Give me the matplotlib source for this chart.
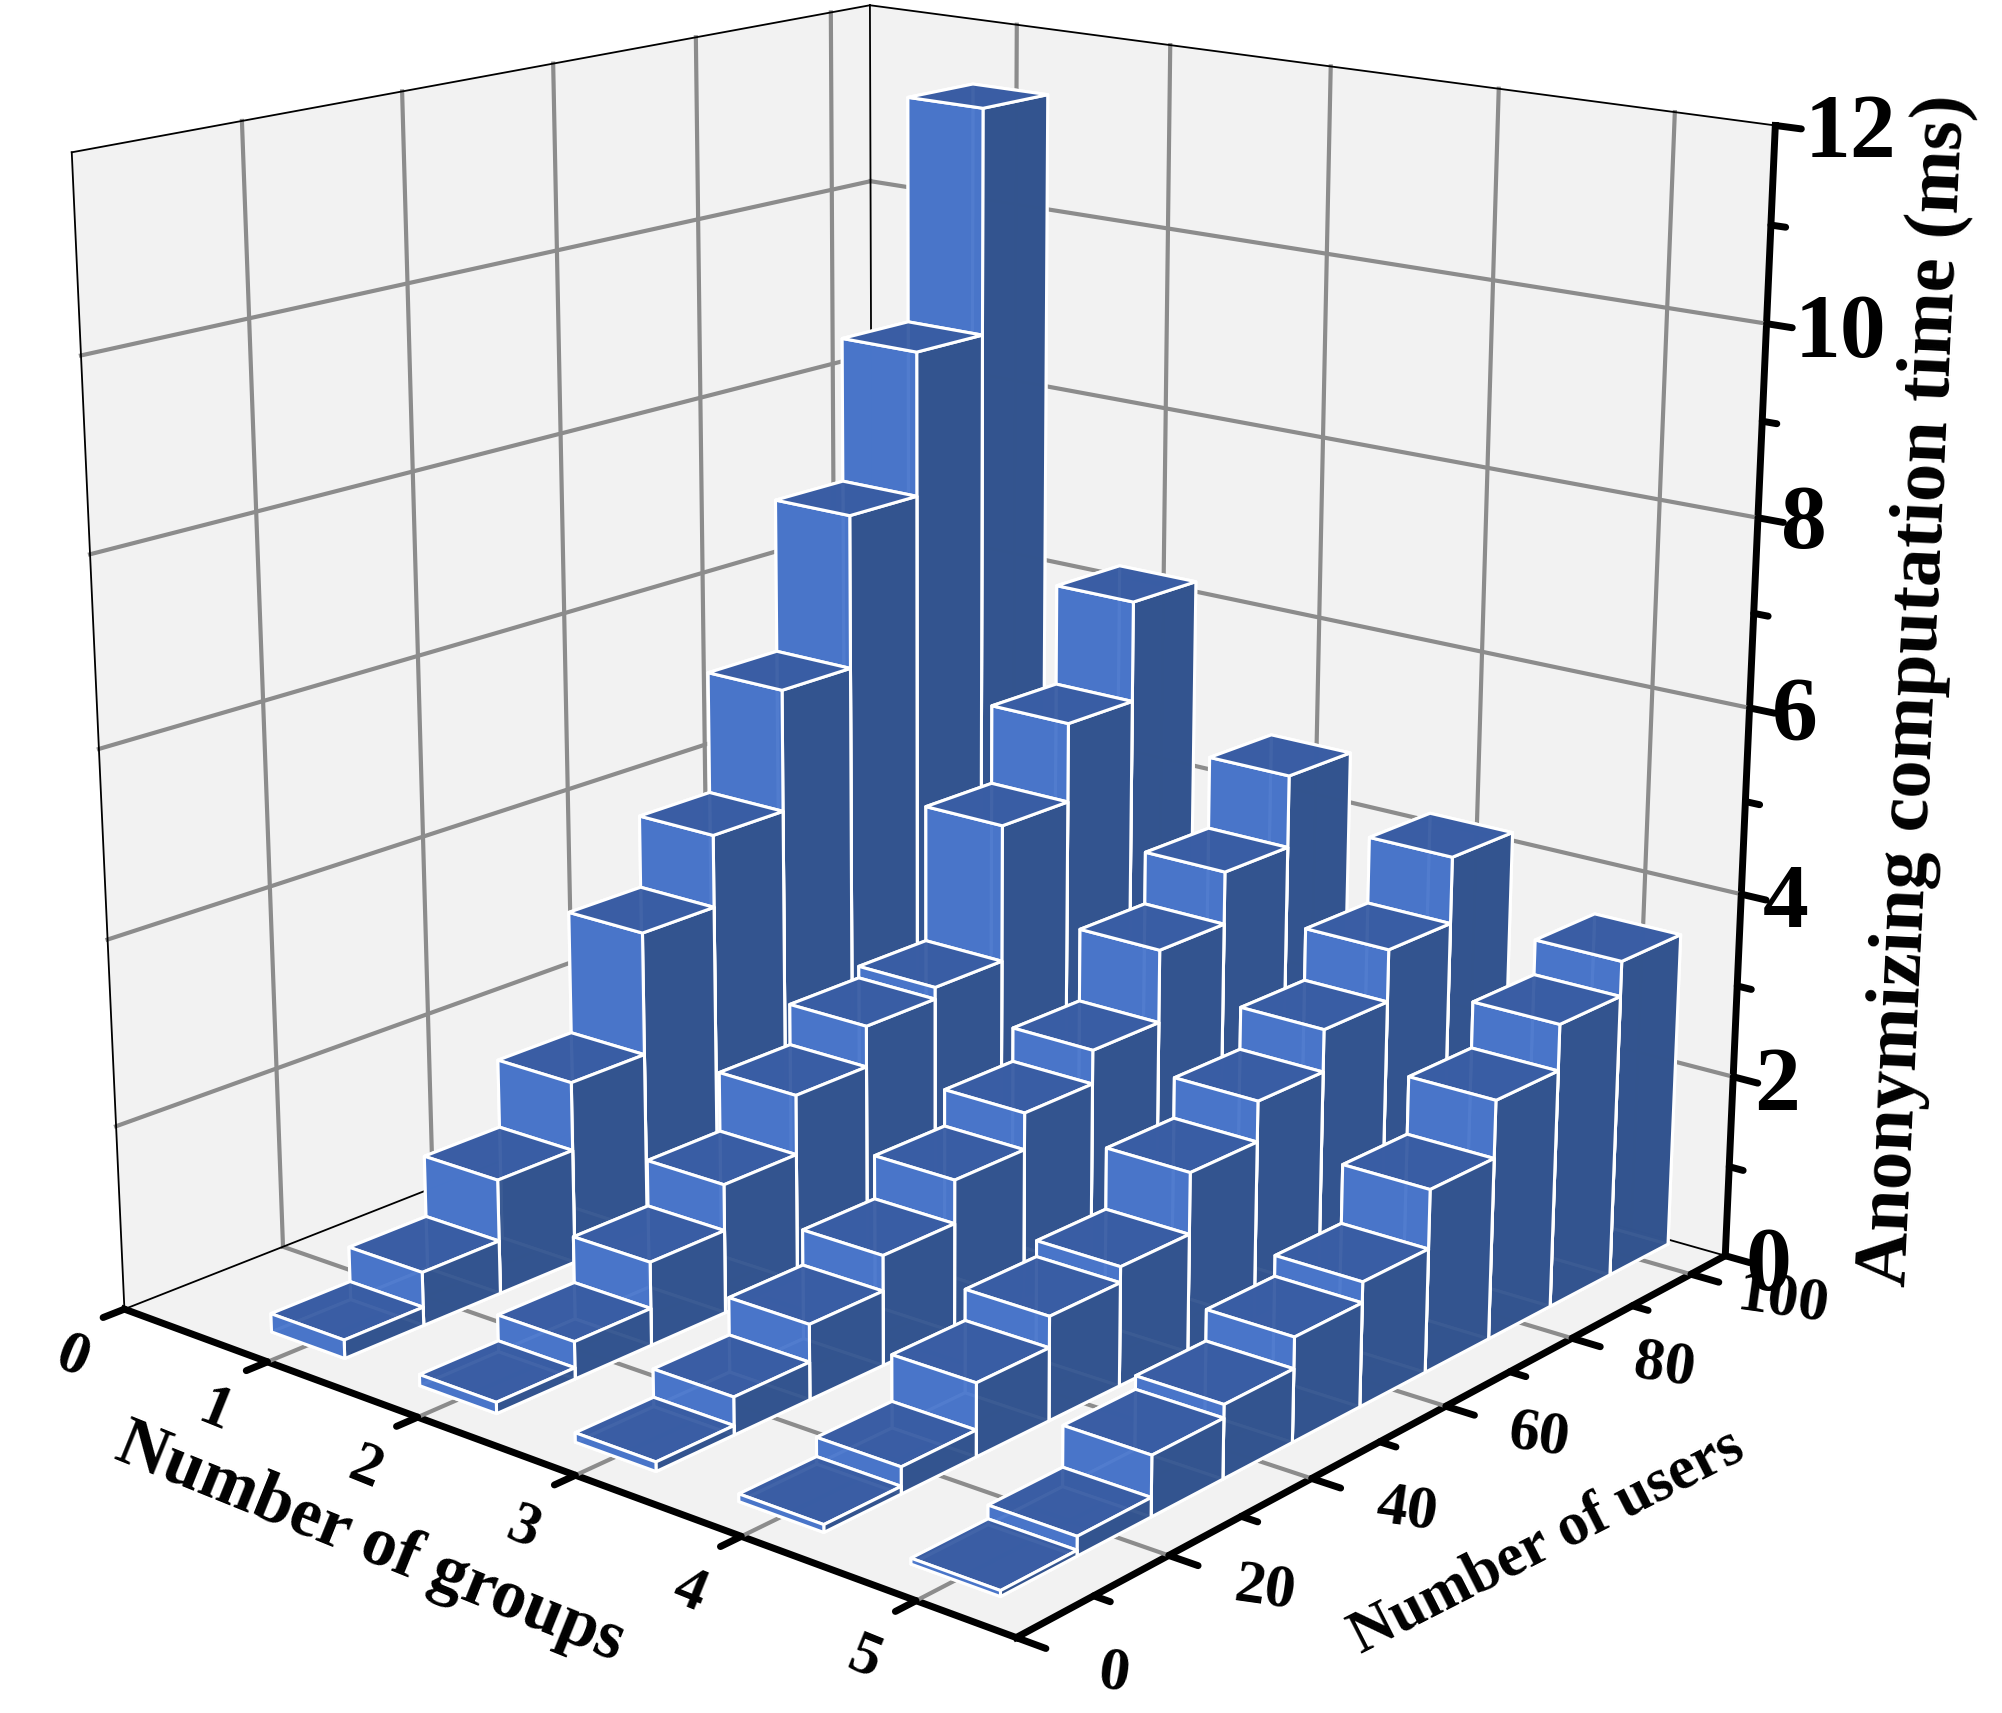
import matplotlib
matplotlib.use('Agg')
import matplotlib.pyplot as plt
from mpl_toolkits.mplot3d import proj3d

plt.rcParams['font.family'] = ['Liberation Serif', 'DejaVu Serif']
plt.rcParams['font.weight'] = 'bold'

# data: one list per group, users 10..100
users = [10, 20, 30, 40, 50, 60, 70, 80, 90, 100]
group_1 = [0.2, 0.58, 1.25, 2.0, 3.35, 4.15, 5.5, 7.2, 8.8, 11.3]
group_2 = [0.12, 0.4, 0.9, 1.4, 2.05, 2.5, 2.63, 4.15, 5.03, 6.15]
group_3 = [0.1, 0.4, 0.8, 1.18, 1.65, 2.05, 2.42, 3.22, 3.8, 4.6]
group_4 = [0.08, 0.28, 0.77, 1.1, 1.27, 1.93, 2.37, 2.83, 3.4, 4.13]
group_5 = [0.06, 0.2, 0.63, 0.77, 1.1, 1.32, 1.95, 2.57, 3.07, 3.45]
groups = [1, 2, 3, 4, 5]
all_groups = [group_1, group_2, group_3, group_4, group_5]

x_ticks = [0, 1, 2, 3, 4, 5]
y_ticks = [0, 20, 40, 60, 80, 100]
y_minor = [10, 30, 50, 70, 90]
z_ticks = [0, 2, 4, 6, 8, 10, 12]
z_minor = [1, 3, 5, 7, 9, 11]

XMAX = 5.55
YMAX = 106
ZMAX = 12

fig = plt.figure(figsize=(20.02, 17.13), dpi=100, facecolor='white')
# axes bigger than the figure so nothing gets clipped at the edges
ax = fig.add_axes([0.4507 - 0.7, 0.556 - 0.7, 1.4, 1.4], projection='3d')
ax.set_proj_type('persp', focal_length=0.42)
ax.view_init(elev=16.5, azim=-50)
ax.set_box_aspect((1, 1, 1.017), zoom=0.826)
ax.set_xlim(0, XMAX)
ax.set_ylim(0, YMAX)
ax.set_zlim(0, ZMAX)
ax.computed_zorder = False
ax.grid(False)

for axis in (ax.xaxis, ax.yaxis, ax.zaxis):
    axis.pane.set_facecolor('#f2f2f2')
    axis.pane.set_alpha(1)
    axis.pane.set_edgecolor('none')
    axis.line.set_linewidth(5)
    axis.line.set_color('black')

# ticks are drawn by hand below
ax.set_xticks([])
ax.set_yticks([])
ax.set_zticks([])


def put_label(x, y, z, s, **kw):
    """Text at a 3D point, kept as a plain 2D text."""
    px, py, _ = proj3d.proj_transform(x, y, z, ax.get_proj())
    ax.text2D(px, py, s, transform=ax.transData, ha='center', va='center', fontweight='bold', **kw)


# grid by hand: only inner ticks get a line
grid_kw = dict(color='#8c8c8c', lw=3, zorder=1)
for v in x_ticks[1:]:
    ax.plot([v, v], [0, YMAX], [0, 0], **grid_kw)
    ax.plot([v, v], [YMAX, YMAX], [0, ZMAX], **grid_kw)
for v in y_ticks[1:]:
    ax.plot([0, XMAX], [v, v], [0, 0], **grid_kw)
    ax.plot([0, 0], [v, v], [0, ZMAX], **grid_kw)
for v in z_ticks[1:-1]:
    ax.plot([0, XMAX], [YMAX, YMAX], [v, v], **grid_kw)
    ax.plot([0, 0], [0, YMAX], [v, v], **grid_kw)

# thin box edges
edge_kw = dict(color='black', lw=1.3, zorder=2)
ax.plot([0, 0], [0, 0], [0, ZMAX], **edge_kw)
ax.plot([0, 0], [0, YMAX], [ZMAX, ZMAX], **edge_kw)
ax.plot([0, XMAX], [YMAX, YMAX], [ZMAX, ZMAX], **edge_kw)
ax.plot([0, 0], [YMAX, YMAX], [0, ZMAX], **edge_kw)
ax.plot([0, 0], [0, YMAX], [0, 0], **edge_kw)
ax.plot([0, XMAX], [YMAX, YMAX], [0, 0], **edge_kw)

# ticks and tick labels
tick_kw = dict(color='black', lw=5, zorder=3, solid_capstyle='round')
for v in x_ticks:
    ax.plot([v, v], [0, -2.6], [0, 0], **tick_kw)
    put_label(v, -6.5, -0.3, str(v), fontsize=44, rotation=-22)
for v in y_ticks:
    ax.plot([XMAX, XMAX + 0.16], [v, v], [0, 0], **tick_kw)
    put_label(XMAX + 0.52, v, 0, str(v), fontsize=44, rotation=-8)
for v in y_minor:
    ax.plot([XMAX, XMAX + 0.09], [v, v], [0, 0], **tick_kw)
for v in z_ticks:
    ax.plot([XMAX, XMAX + 0.14], [YMAX, YMAX], [v, v], **tick_kw)
    off = 0.4 if v >= 10 else 0.25
    put_label(XMAX + off, YMAX, v, str(v), fontsize=66)
for v in z_minor:
    ax.plot([XMAX, XMAX + 0.08], [YMAX, YMAX], [v, v], **tick_kw)

# faces: bottom, top, -y, +y, -x, +x
c_front = '#4a77cc'
c_side = '#33548f'
c_top = '#3a5ea5'
face_colors = ['#33548f', c_top, c_front, c_side, c_side, c_side]

# back to front so the bars overlap the right way
z = 10
for g, vals in zip(groups, all_groups):
    for u, h in reversed(list(zip(users, vals))):
        bars = ax.bar3d(g - 0.25, u - 5, 0, 0.5, 10, h, color=face_colors, shade=False,
                        edgecolor='white', linewidth=2.2, alpha=0.96)
        bars.set_zorder(z)
        z += 1

fig.text(0.185, 0.099, 'Number of groups', fontsize=50, rotation=-22,
         ha='center', va='center', fontweight='bold')
fig.text(0.773, 0.1, 'Number of users', fontsize=44, rotation=27,
         ha='center', va='center', fontweight='bold')
fig.text(0.957, 0.597, 'Anonymizing computation time (ms)', fontsize=55, rotation=87.2,
         ha='center', va='center', fontweight='bold')

fig.savefig('out.png', dpi=100)
